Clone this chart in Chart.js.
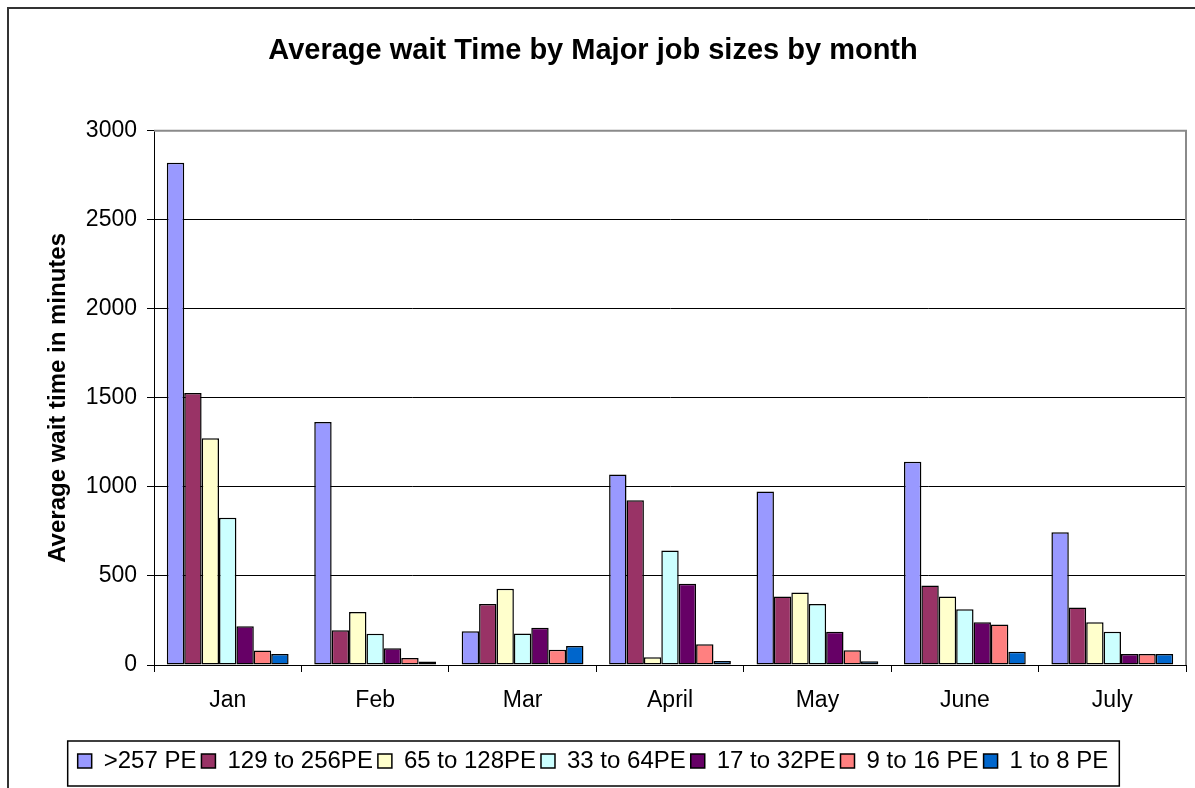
<!DOCTYPE html>
<html>
<head>
<meta charset="utf-8">
<title>Average wait Time by Major job sizes by month</title>
<script src="https://cdn.jsdelivr.net/npm/chart.js@4/dist/chart.umd.min.js"></script>
<style>
  body { margin: 0; background: #fff; }
  canvas { display: block; }
</style>
</head>
<body>
<canvas id="myChart" width="1195" height="788"></canvas>
<script>
// months on the x axis
var months = ['Jan', 'Feb', 'Mar', 'April', 'May', 'June', 'July'];

// average wait in minutes, one array per job size
var pe257 = [2820, 1365, 189, 1070, 975, 1142, 745];
var pe129to256 = [1527, 195, 343, 925, 385, 447, 323];
var pe65to128 = [1273, 297, 428, 43, 407, 385, 240];
var pe33to64 = [827, 175, 177, 643, 343, 313, 187];
var pe17to32 = [217, 94, 209, 456, 187, 240, 62];
var pe9to16 = [82, 40, 85, 117, 83, 228, 62];
var pe1to8 = [62, 20, 106, 23, 21, 74, 62];

var seriesLabels = ['>257 PE', '129 to 256PE', '65 to 128PE', '33 to 64PE', '17 to 32PE', '9 to 16 PE', '1 to 8 PE'];
var seriesColors = ['#9999FF', '#993366', '#FFFFCC', '#CCFFFF', '#660066', '#FF8080', '#0066CC'];
var seriesValues = [pe257, pe129to256, pe65to128, pe33to64, pe17to32, pe9to16, pe1to8];

var yTicks = [0, 500, 1000, 1500, 2000, 2500, 3000];

var fontFamily = "'Liberation Sans', Arial, sans-serif";

function getDatasets() {
	var datasets = [];
	for (var i = 0; i < seriesValues.length; i++) {
		datasets.push({
			label: seriesLabels[i],
			data: seriesValues[i],
			backgroundColor: seriesColors[i],
			borderColor: '#000',
			borderWidth: 1.5,
			borderSkipped: false,
			categoryPercentage: 0.826,
			barPercentage: 1.0
		});
	}
	return datasets;
}

// white background, outer frame, gray plot border, box round the legend
var framePlugin = {
	id: 'frame',
	beforeDraw: function (chart) {
		var ctx = chart.ctx;
		ctx.save();
		ctx.fillStyle = '#fff';
		ctx.fillRect(0, 0, chart.width, chart.height);
		ctx.strokeStyle = '#333';
		ctx.lineWidth = 2;
		ctx.beginPath();
		ctx.moveTo(8, chart.height);
		ctx.lineTo(8, 8);
		ctx.lineTo(chart.width, 8);
		ctx.stroke();
		ctx.restore();
	},
	afterDraw: function (chart) {
		var ctx = chart.ctx;
		var a = chart.chartArea;
		ctx.save();
		ctx.strokeStyle = '#8a8a8a';
		ctx.lineWidth = 2;
		ctx.beginPath();
		ctx.moveTo(a.left, a.top);
		ctx.lineTo(a.right, a.top);
		ctx.lineTo(a.right, a.bottom);
		ctx.stroke();

		var lg = chart.legend;
		var hb = lg.legendHitBoxes;
		if (hb && hb.length) {
			var last = hb[hb.length - 1];
			var l = hb[0].left - 10;
			var r = last.left + last.width + 11;
			ctx.strokeStyle = '#000';
			ctx.lineWidth = 1.5;
			ctx.strokeRect(l, lg.top - 3, r - l, lg.bottom - lg.top + 6);
		}
		ctx.restore();
	}
};

var chart = document.getElementById('myChart').getContext('2d');
var myChart = new Chart(chart, {
	type: 'bar',
	data: {
		labels: months,
		datasets: getDatasets()
	},
	plugins: [framePlugin],
	options: {
		responsive: false,
		animation: false,
		devicePixelRatio: 1,
		layout: {
			padding: { left: 0, right: 9, top: 0, bottom: 5 }
		},
		plugins: {
			title: {
				display: true,
				text: 'Average wait Time by Major job sizes by month',
				color: '#000',
				font: { family: fontFamily, size: 29, weight: 'bold' },
				padding: { top: 34, bottom: 62 }
			},
			legend: {
				position: 'bottom',
				labels: {
					color: '#000',
					font: { family: fontFamily, size: 24 },
					boxWidth: 14,
					boxHeight: 14,
					padding: 5
				}
			},
			tooltip: { enabled: false }
		},
		scales: {
			x: {
				afterFit: function (scale) { scale.height = 79; },
				grid: {
					offset: true,
					drawOnChartArea: false,
					drawTicks: true,
					tickLength: 7,
					color: '#000'
				},
				border: { color: '#000', width: 1 },
				ticks: {
					color: '#000',
					font: { family: fontFamily, size: 23 },
					padding: 15,
					maxRotation: 0,
					autoSkip: false
				}
			},
			y: {
				min: 0,
				max: 3000,
				afterFit: function (scale) { scale.width = 154; },
				afterBuildTicks: function (scale) {
					scale.ticks = yTicks.map(function (v) { return { value: v }; });
				},
				grid: {
					color: '#000',
					tickLength: 7,
					lineWidth: 1
				},
				border: { color: '#000', width: 1 },
				ticks: {
					color: '#000',
					font: { family: fontFamily, size: 23 },
					padding: 10,
					callback: function (value) { return String(value); }
				},
				title: {
					display: true,
					text: 'Average wait time in minutes',
					color: '#000',
					font: { family: fontFamily, size: 24, weight: 'bold' },
					padding: { top: 44, bottom: 0 }
				}
			}
		}
	}
});
</script>
</body>
</html>
